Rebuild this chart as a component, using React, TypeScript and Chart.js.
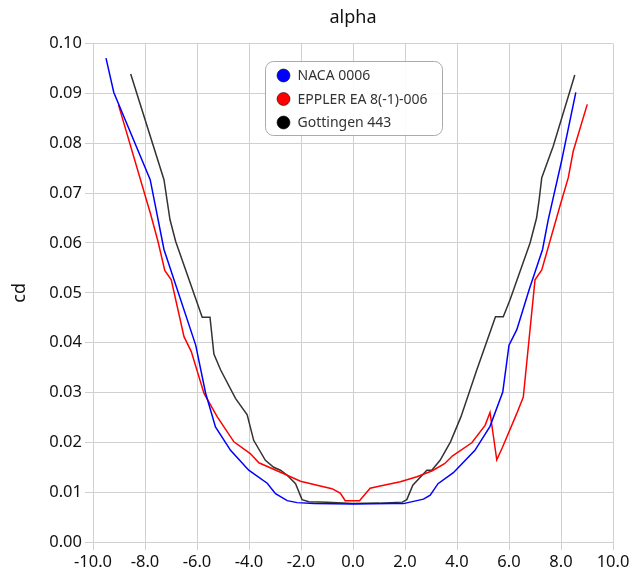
import React, { useEffect, useRef } from "react";
import { Chart, registerables } from "chart.js";

Chart.register(...registerables);

const FONT = "'Noto Sans', 'Open Sans', sans-serif";

const seriesNames = ["NACA 0006", "EPPLER EA 8(-1)-006", "Gottingen 443"];
const seriesColors = ["#0000ff", "#ff0000", "#333333"];

const nacaAlpha = [-9.5, -9.2, -7.8, -7.27, -6.05, -5.67, -5.29, -4.71, -4.01, -3.3, -2.98, -2.53, -2.15, -1.5, 0, 1.5, 1.94, 2.71, 2.97, 3.27, 3.86, 4.69, 5.27, 5.76, 6.0, 6.3, 6.78, 7.29, 7.51, 8.02, 8.57];
const nacaCd = [0.0971, 0.0902, 0.0727, 0.0587, 0.0395, 0.0299, 0.0231, 0.0184, 0.0144, 0.0118, 0.0097, 0.0083, 0.0079, 0.0077, 0.0076, 0.0077, 0.0077, 0.0086, 0.0094, 0.0117, 0.0139, 0.0184, 0.0232, 0.0301, 0.0395, 0.0426, 0.0507, 0.0587, 0.0647, 0.0764, 0.0902];

const epplerAlpha = [-9.02, -7.78, -7.5, -7.24, -6.99, -6.5, -6.22, -5.73, -5.22, -4.58, -3.94, -3.62, -2.79, -2.02, -1.38, -0.81, -0.49, -0.3, 0.25, 0.66, 1.0, 1.82, 2.46, 3.05, 3.52, 3.83, 4.57, 5.08, 5.27, 5.53, 5.75, 6.3, 6.55, 7.0, 7.26, 7.96, 8.28, 8.47, 9.01];
const epplerCd = [0.0877, 0.0657, 0.0603, 0.0545, 0.0526, 0.0412, 0.0382, 0.0298, 0.0251, 0.0201, 0.0177, 0.0159, 0.014, 0.0122, 0.0114, 0.0107, 0.0098, 0.0083, 0.0083, 0.0108, 0.0112, 0.0121, 0.0131, 0.0143, 0.0157, 0.0173, 0.0199, 0.0234, 0.026, 0.0165, 0.019, 0.0258, 0.0291, 0.0526, 0.0546, 0.0674, 0.0731, 0.0784, 0.0878];

const gottAlpha = [-8.55, -7.27, -7.04, -6.82, -5.8, -5.5, -5.35, -5.09, -4.52, -4.07, -3.82, -3.37, -3.05, -2.79, -2.53, -2.21, -1.96, -1.7, -1.0, 0, 1.0, 1.9, 2.07, 2.3, 2.84, 3.03, 3.35, 3.75, 4.15, 4.76, 5.48, 5.78, 6.04, 6.81, 7.06, 7.16, 7.26, 7.7, 8.53];
const gottCd = [0.0939, 0.0727, 0.0647, 0.0603, 0.0451, 0.0451, 0.0377, 0.0345, 0.0288, 0.0255, 0.0204, 0.0164, 0.015, 0.0144, 0.0134, 0.0117, 0.0085, 0.0081, 0.008, 0.0077, 0.0078, 0.008, 0.0085, 0.0114, 0.0144, 0.0144, 0.0164, 0.0201, 0.0251, 0.0345, 0.0452, 0.0452, 0.0486, 0.06, 0.065, 0.0687, 0.0731, 0.0794, 0.0937];

const xTitle = "alpha";
const yTitle = "cd";

const allAlpha = [nacaAlpha, epplerAlpha, gottAlpha];
const allCd = [nacaCd, epplerCd, gottCd];

const boxLegend = {
  id: "boxLegend",
  afterDraw(chart: any) {
    const { ctx, chartArea } = chart;
    const w = 177;
    const h = 74;
    const left = Math.round((chartArea.left + chartArea.right) / 2 - w / 2) + 0.5;
    const top = Math.round(chartArea.top + 17) + 0.5;
    ctx.save();
    ctx.beginPath();
    ctx.roundRect(left, top, w, h, 8);
    ctx.fillStyle = "rgba(255,255,255,0.9)";
    ctx.fill();
    ctx.strokeStyle = "#aaaaaa";
    ctx.lineWidth = 1;
    ctx.stroke();
    ctx.font = "14px " + FONT;
    ctx.textBaseline = "middle";
    ctx.textAlign = "left";
    seriesNames.forEach((name, i) => {
      const cy = top + 14 + i * 23.5;
      const cx = left + 18;
      ctx.beginPath();
      ctx.arc(cx, cy, 6.5, 0, Math.PI * 2);
      ctx.fillStyle = seriesColors[i] === "#333333" ? "#000000" : seriesColors[i];
      ctx.fill();
      ctx.strokeStyle = "rgba(0,0,0,0.55)";
      ctx.lineWidth = 1;
      ctx.stroke();
      ctx.fillStyle = "#333333";
      ctx.fillText(name, cx + 14, cy + 1);
    });
    ctx.restore();
  },
};

export default function App() {
  const ref = useRef<HTMLCanvasElement | null>(null);
  useEffect(() => {
    document.body.style.margin = "0";
    const canvas = ref.current;
    if (!canvas) return;
    const datasets = seriesNames.map((name, i) => ({
      label: name,
      data: allAlpha[i].map((a, j) => ({ x: a, y: allCd[i][j] })),
      borderColor: seriesColors[i],
      backgroundColor: seriesColors[i],
      borderWidth: 1.5,
      pointRadius: 0,
      fill: false,
      tension: 0,
    }));
    const chart = new Chart(canvas, {
      type: "line",
      data: { datasets },
      plugins: [boxLegend],
      options: {
        animation: false,
        responsive: true,
        maintainAspectRatio: false,
        layout: { padding: { left: 0, right: 19, top: 0, bottom: 0 } },
        plugins: {
          legend: { display: false },
          tooltip: { enabled: false },
          title: {
            display: true,
            text: xTitle,
            fullSize: false,
            color: "#111",
            font: { family: FONT, size: 18, weight: "normal" },
            padding: { top: 7, bottom: 15 },
          },
        },
        scales: {
          x: {
            type: "linear",
            min: -10,
            max: 10,
            ticks: {
              stepSize: 2,
              color: "#111",
              font: { family: FONT, size: 16.5 },
              maxRotation: 0,
              padding: 2,
              callback: (v: any) => Number(v).toFixed(1),
            },
            grid: { color: "#d0d0d0", lineWidth: 1 },
            border: { color: "#d0d0d0" },
            afterFit: (s: any) => {
              s.height = 31;
            },
          },
          y: {
            type: "linear",
            min: 0,
            max: 0.1,
            ticks: {
              stepSize: 0.01,
              color: "#111",
              font: { family: FONT, size: 16.5 },
              callback: (v: any) => Number(v).toFixed(2),
            },
            grid: { color: "#d0d0d0", lineWidth: 1 },
            border: { color: "#d0d0d0" },
            title: {
              display: true,
              text: yTitle,
              color: "#111",
              font: { family: FONT, size: 18 },
              padding: { top: 9, bottom: 4 },
            },
            afterFit: (s: any) => {
              s.width = 93;
            },
          },
        },
      },
    });
    return () => chart.destroy();
  }, []);
  return (
    <div style={{ position: "fixed", left: 0, top: 0, width: 632, height: 573, background: "#fff" }}>
      <canvas ref={ref} />
    </div>
  );
}
